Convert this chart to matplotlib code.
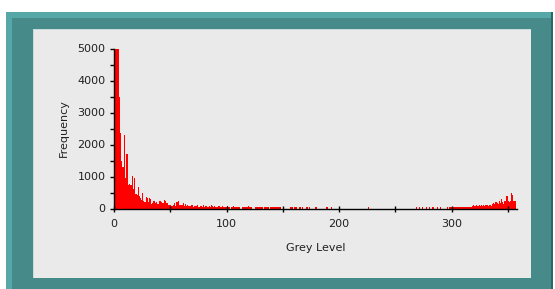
import numpy as np
import matplotlib
matplotlib.use('Agg')
import matplotlib.pyplot as plt
from matplotlib.patches import Rectangle

# === Datos del histograma (nivel de gris 0..359) ===
head = [3500, 5000, 5000, 5000, 3500, 2360, 1490, 1300, 1300, 2300,
        960, 1700, 730, 760, 720, 740, 1020, 600, 960, 440,
        430, 670, 380, 335, 270, 490, 230, 210, 356, 340,
        210, 330, 310, 150, 160, 230, 180, 210, 130, 150,
        230, 220, 200]
mid1 = [180, 280, 230, 170, 180, 110, 100, 120, 90, 110,
        160, 80, 210, 190, 220, 120, 100, 110, 170, 90,
        150, 80, 120, 70, 90, 100, 95, 60, 90, 80]
mid2 = [70, 110, 60, 90, 80, 50, 100, 60, 70, 90,
        50, 80, 60, 110, 70, 50, 90, 60, 40, 70,
        80, 50, 60, 70, 40, 60, 50, 80]
mid3 = [60, 50, 0, 60, 40, 70, 50, 60, 40, 50,
        60, 0, 0, 50, 60, 40, 60, 50, 70, 40,
        60, 50, 0, 0, 60, 50, 40, 60, 50, 40,
        60, 0, 50, 40, 60, 50, 40, 0, 50]
mid4 = [50, 40, 50, 60, 40, 50, 60, 50, 0, 0,
        0, 0, 0, 0, 0, 0, 50, 40, 50, 0,
        50, 50, 40, 0, 50, 40, 0, 50, 0, 0,
        0, 50, 0, 40, 0, 0, 0, 0, 0, 50]
# niveles 180..267: casi vacio
sparse_bins = [188, 189, 193, 226]
sparse_vals = [50, 40, 40, 40]
tail = [50, 0, 0, 50, 0, 0, 50, 0, 0, 50, 0, 0, 50, 0, 0, 50, 0, 0,
        0, 50, 0, 0, 50, 0, 0, 0, 0, 0, 50, 0, 50, 40,
        50, 40, 50, 60, 50, 40, 50, 60, 50, 50, 40, 60, 50, 50, 60, 40, 50, 60,
        80, 100, 90, 80, 110, 90, 100, 80, 120, 90, 100, 80, 110, 100, 90, 120, 100, 90,
        150, 180, 130, 200, 160, 150,
        220, 180, 300, 200, 150, 250,
        400, 380, 250, 200, 250,
        490, 420, 250, 230,
        0, 0, 0]

gap = [0] * 88
for b, v in zip(sparse_bins, sparse_vals):
    gap[b - 180] = v
freq = np.array(head + mid1 + mid2 + mid3 + mid4 + gap + tail)
levels = np.arange(len(freq))

W, H = 555, 289
fig = plt.figure(figsize=(W / 100, H / 100), dpi=100)
fig.patch.set_facecolor('white')

def rect(x0, y0, x1, y1, color):
    # coordenadas en pixeles (origen arriba-izquierda)
    fig.add_artist(Rectangle((x0 / W, 1 - y1 / H), (x1 - x0) / W, (y1 - y0) / H,
                             transform=fig.transFigure, color=color, lw=0, zorder=0))

rect(6, 12, 553, 289, '#468a89')
rect(6, 12, 553, 18, '#55a8a7')
rect(6, 12, 12, 289, '#55a8a7')
rect(551, 12, 553, 289, '#2f6665')
rect(33, 29, 531, 278, '#c9dada')
rect(34, 30, 531, 278, '#eaeaea')

x0, x1 = 114, 114 + 358 * 1.125
y0, y1 = 48.5, 208.5
ax = fig.add_axes([x0 / W, 1 - y1 / H, (x1 - x0) / W, (y1 - y0) / H])
ax.set_facecolor('none')

ax.bar(levels, freq, width=1.0, align='edge', color='#ff0000', linewidth=0)
ax.set_xlim(0, 358)
ax.set_ylim(0, 5000)

for s in ['top', 'right']:
    ax.spines[s].set_visible(False)
for s in ['left', 'bottom']:
    ax.spines[s].set_color('black')
    ax.spines[s].set_linewidth(1.0)

font = {'family': 'DejaVu Sans', 'size': 8, 'color': '#202020'}
ax.set_xticks(np.arange(0, 351, 50))
ax.set_xticklabels(['0', '', '100', '', '200', '', '300', ''], fontdict=font)
ax.set_yticks(np.arange(0, 5001, 500))
ax.set_yticklabels([str(v) if v % 1000 == 0 else '' for v in range(0, 5001, 500)], fontdict=font)
ax.tick_params(axis='x', direction='inout', length=5, width=1, pad=5, colors='black', labelcolor='#202020')
ax.tick_params(axis='y', direction='out', length=3, width=1, pad=3, colors='black', labelcolor='#202020')

ax.set_xlabel('Grey Level', fontdict=font, labelpad=10)
ax.set_ylabel('Frequency', fontdict=font, labelpad=6)

fig.savefig('out.png', dpi=100)
